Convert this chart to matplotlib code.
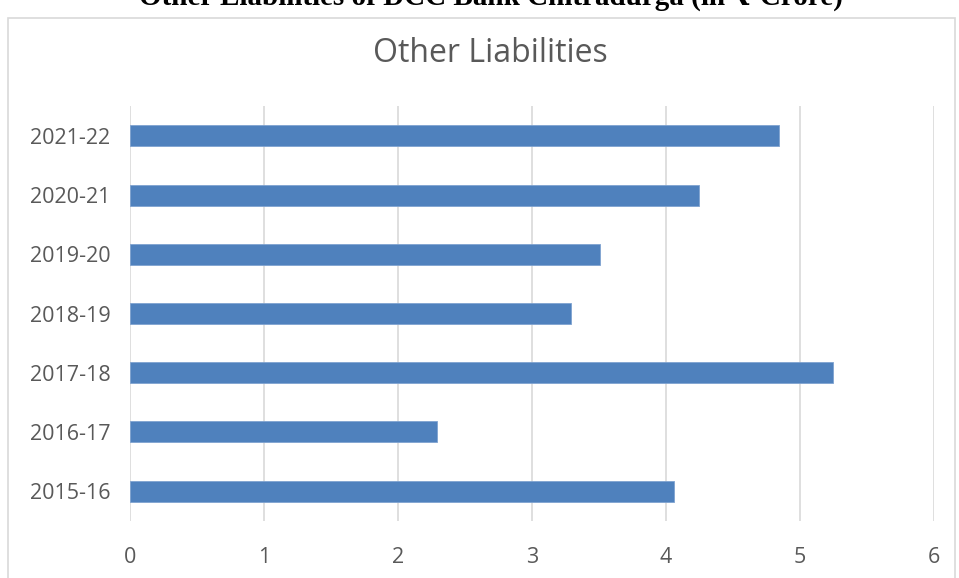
import matplotlib
matplotlib.use("Agg")
import matplotlib.pyplot as plt
from matplotlib.patches import Rectangle

categories = ["2015-16", "2016-17", "2017-18", "2018-19", "2019-20", "2020-21", "2021-22"]
values = [4.06, 2.29, 5.25, 3.29, 3.51, 4.25, 4.84]
xticks = [0, 1, 2, 3, 4, 5, 6]
title = "Other Liabilities"
caption = "Other Liabilities of DCC Bank Chitradurga (in \u20b9 Crore)"

W, H = 959, 578
fig = plt.figure(figsize=(W / 100, H / 100), dpi=100)

# chart frame border
fig.patches.append(Rectangle((8 / W, -0.01), (955 - 8) / W, 1 - 18 / H + 0.01,
                             transform=fig.transFigure, fill=False,
                             edgecolor="#d9d9d9", linewidth=1.2))

ax = fig.add_axes([130 / W, (H - 520.6) / H, (934 - 130) / W, (520.6 - 106.4) / H])
ax.barh(range(len(categories)), values, height=0.355, color="#4f81bd",
        edgecolor="#7fa3d0", linewidth=0.6, zorder=3)
ax.set_xlim(0, 6)
ax.set_ylim(-0.5, len(categories) - 0.5)
ax.set_xticks(xticks)
ax.set_xticklabels([str(t) for t in xticks])
ax.set_yticks(range(len(categories)))
ax.set_yticklabels(categories)
ax.grid(axis="x", color="#d9d9d9", linewidth=1.2, zorder=0)
for s in ax.spines.values():
    s.set_visible(False)
ax.tick_params(axis="both", length=0, labelsize=15.5, colors="#595959")
ax.tick_params(axis="x", pad=19)
ax.tick_params(axis="y", pad=14)
for lab in ax.get_xticklabels() + ax.get_yticklabels():
    lab.set_family(["Open Sans", "DejaVu Sans"])

fig.text(490 / W, 1 - 53 / H, title, ha="center", va="center", fontsize=23,
         color="#595959", family=["Open Sans", "DejaVu Sans"])

fig.text(491 / W, 1 - 5 / H, caption, ha="center", va="baseline", fontsize=21,
         fontweight="bold", color="black", family=["Liberation Serif", "DejaVu Serif"])

fig.savefig("out.png", dpi=100)
